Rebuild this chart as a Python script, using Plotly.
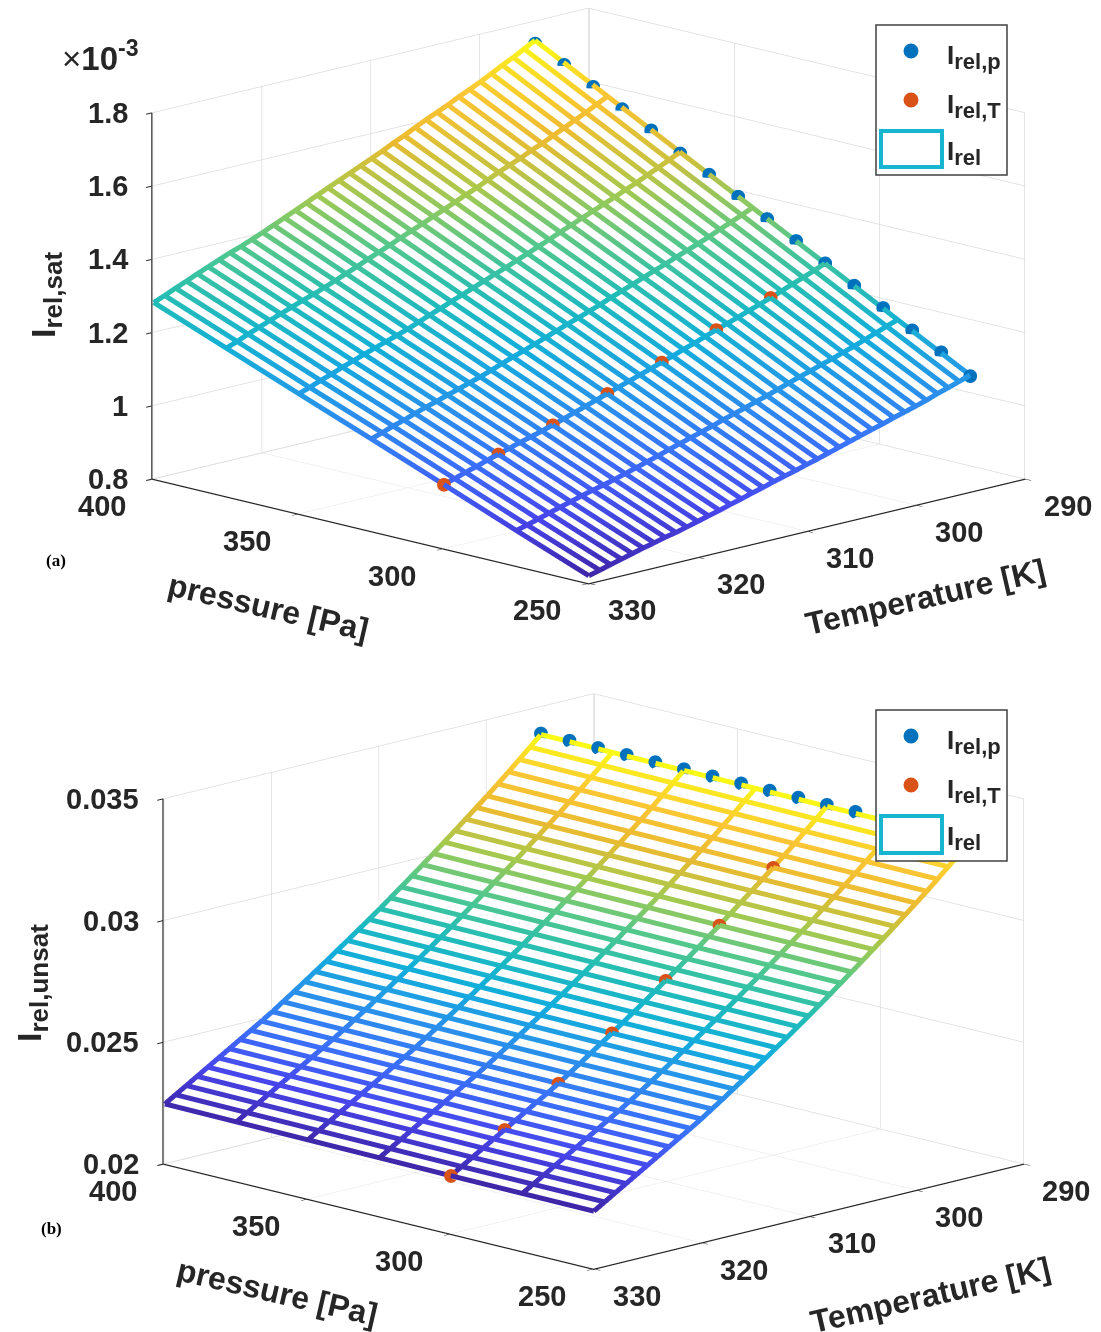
import plotly.graph_objects as go

TEMPS = list(range(295, 331))
PRESSURES = [400, 375, 350, 325, 300, 275, 250]

# rows: one per temperature, columns: one per pressure (units of 1e-3)
SAT = [
[1.748,1.643,1.538,1.434,1.329,1.223,1.119],
[1.732,1.628,1.524,1.421,1.317,1.212,1.109],
[1.716,1.613,1.510,1.408,1.305,1.201,1.099],
[1.702,1.599,1.497,1.396,1.294,1.190,1.090],
[1.686,1.585,1.483,1.383,1.282,1.179,1.079],
[1.671,1.571,1.471,1.371,1.271,1.169,1.070],
[1.657,1.557,1.458,1.360,1.260,1.159,1.061],
[1.644,1.545,1.446,1.349,1.250,1.150,1.053],
[1.629,1.531,1.434,1.337,1.239,1.140,1.043],
[1.616,1.519,1.422,1.326,1.229,1.131,1.035],
[1.603,1.507,1.410,1.315,1.219,1.121,1.026],
[1.589,1.493,1.398,1.303,1.208,1.111,1.017],
[1.574,1.479,1.385,1.292,1.197,1.101,1.008],
[1.561,1.467,1.373,1.281,1.187,1.092,0.999],
[1.546,1.454,1.361,1.269,1.176,1.082,0.990],
[1.533,1.441,1.349,1.258,1.166,1.073,0.982],
[1.520,1.429,1.337,1.247,1.156,1.064,0.973],
[1.507,1.416,1.326,1.237,1.146,1.054,0.965],
[1.494,1.404,1.314,1.226,1.136,1.045,0.957],
[1.481,1.392,1.303,1.215,1.126,1.036,0.948],
[1.468,1.379,1.291,1.204,1.116,1.027,0.940],
[1.454,1.367,1.280,1.193,1.106,1.018,0.931],
[1.441,1.355,1.268,1.183,1.096,1.008,0.923],
[1.428,1.342,1.257,1.172,1.086,0.999,0.914],
[1.415,1.330,1.245,1.161,1.076,0.990,0.906],
[1.402,1.318,1.233,1.150,1.066,0.981,0.898],
[1.390,1.306,1.223,1.141,1.057,0.972,0.890],
[1.378,1.295,1.213,1.131,1.048,0.964,0.882],
[1.368,1.285,1.203,1.122,1.040,0.957,0.876],
[1.356,1.274,1.193,1.112,1.031,0.949,0.868],
[1.344,1.263,1.182,1.103,1.022,0.940,0.861],
[1.332,1.252,1.172,1.093,1.013,0.932,0.853],
[1.319,1.240,1.160,1.082,1.003,0.923,0.845],
[1.307,1.229,1.150,1.073,0.994,0.914,0.837],
[1.294,1.216,1.138,1.062,0.984,0.905,0.829],
[1.282,1.205,1.128,1.052,0.975,0.897,0.821],
]

# same layout, units of 1e-3
UNSAT = [
[33.87,33.85,33.83,33.81,33.79,33.78,33.77],
[33.46,33.44,33.42,33.40,33.38,33.37,33.36],
[33.06,33.04,33.02,33.00,32.98,32.97,32.96],
[32.66,32.64,32.62,32.60,32.58,32.57,32.56],
[32.27,32.25,32.23,32.21,32.19,32.18,32.17],
[31.89,31.87,31.85,31.83,31.81,31.80,31.79],
[31.52,31.50,31.48,31.46,31.44,31.43,31.42],
[31.15,31.13,31.11,31.09,31.07,31.06,31.05],
[30.78,30.76,30.74,30.72,30.70,30.69,30.68],
[30.42,30.40,30.38,30.36,30.34,30.33,30.32],
[30.06,30.04,30.02,30.00,29.98,29.97,29.96],
[29.71,29.69,29.67,29.65,29.63,29.62,29.61],
[29.36,29.34,29.32,29.30,29.28,29.27,29.26],
[29.01,28.99,28.97,28.95,28.93,28.92,28.91],
[28.67,28.65,28.63,28.61,28.59,28.58,28.57],
[28.33,28.31,28.29,28.27,28.25,28.24,28.23],
[28.00,27.98,27.96,27.94,27.92,27.91,27.90],
[27.67,27.65,27.63,27.61,27.59,27.58,27.57],
[27.35,27.33,27.31,27.29,27.27,27.26,27.25],
[27.03,27.01,26.99,26.97,26.95,26.94,26.93],
[26.71,26.69,26.67,26.65,26.63,26.62,26.61],
[26.40,26.38,26.36,26.34,26.32,26.31,26.30],
[26.09,26.07,26.05,26.03,26.01,26.00,25.99],
[25.78,25.76,25.74,25.72,25.70,25.69,25.68],
[25.48,25.46,25.44,25.42,25.40,25.39,25.38],
[25.18,25.16,25.14,25.12,25.10,25.09,25.08],
[24.90,24.88,24.86,24.84,24.82,24.81,24.80],
[24.63,24.61,24.59,24.57,24.55,24.54,24.53],
[24.36,24.34,24.32,24.30,24.28,24.27,24.26],
[24.09,24.07,24.05,24.03,24.01,24.00,23.99],
[23.82,23.80,23.78,23.76,23.74,23.73,23.72],
[23.55,23.53,23.51,23.49,23.47,23.46,23.45],
[23.28,23.26,23.24,23.22,23.20,23.19,23.18],
[23.01,22.99,22.97,22.95,22.93,22.92,22.91],
[22.74,22.72,22.70,22.68,22.66,22.65,22.64],
[22.47,22.45,22.43,22.41,22.39,22.38,22.37],
]

DOT_P = [400,390,380,370,360,350,340,330,320,310,300,290,280,270,260,250]
SAT_DOT_P = [1.740,1.701,1.660,1.618,1.579,1.535,1.496,1.455,1.413,1.372,1.330,1.288,1.246,1.204,1.163,1.117]
UNSAT_DOT_P = [33.92,33.91,33.90,33.90,33.89,33.89,33.88,33.88,33.87,33.87,33.86,33.86,33.85,33.85,33.84,33.84]
DOT_T = [295,300,305,310,315,320,325,330]
SAT_DOT_T = [1.329,1.271,1.219,1.166,1.116,1.066,1.022,0.975]
UNSAT_DOT_T = [33.79,31.81,29.98,28.25,26.63,25.10,23.74,22.39]

P_TICKS = [250, 300, 350, 400]
T_TICKS = [290, 300, 310, 320, 330]
SAT_TICKS = [0.8, 1, 1.2, 1.4, 1.6, 1.8]
SAT_LABELS = ["0.8", "1", "1.2", "1.4", "1.6", "1.8"]
UNSAT_TICKS = [20, 25, 30, 35]
UNSAT_LABELS = ["0.02", "0.025", "0.03", "0.035"]

PARULA = [[0,"#3e26a8"],[.1,"#4745eb"],[.2,"#3a70fb"],[.3,"#2992ea"],[.4,"#12aedb"],
          [.5,"#21bcb8"],[.6,"#52c88c"],[.7,"#a6c94d"],[.8,"#ebba30"],[.9,"#fcc734"],[1,"#f9fb15"]]
BLUE = "#0072BD"; ORANGE = "#D95319"; CYAN = "#17b5cf"; INK = "#262626"
W, H = 1101, 1332
FONT = "Liberation Sans"
# axis ranges reach a hair past the data so the wires on the rim are not clipped
P_RANGE = [249.7, 400.3]
T_RANGE = [290, 330.1]

def add_panel(fig, scene, Z, dots_p, dots_t, drop):
    vals = [v for r in Z for v in r]
    lo, hi = min(vals), max(vals)
    # the white faces of the mesh, sitting just under its wires
    fig.add_trace(go.Surface(x=PRESSURES, y=TEMPS, z=[[v - drop for v in r] for r in Z], scene=scene,
        colorscale=[[0, "white"], [1, "white"]], showscale=False, hoverinfo="skip", opacity=1,
        lighting=dict(ambient=1, diffuse=0, specular=0, roughness=1, fresnel=0)))
    def wire(xs, ys, zs):
        fig.add_trace(go.Scatter3d(x=xs, y=ys, z=zs, mode="lines", scene=scene, showlegend=False,
            hoverinfo="skip", line=dict(width=10, color=zs, colorscale=PARULA, cmin=lo, cmax=hi)))
    for i, T in enumerate(TEMPS):
        wire(PRESSURES, [T]*len(PRESSURES), Z[i])
    for j, p in enumerate(PRESSURES):
        wire([p]*len(TEMPS), TEMPS, [r[j] for r in Z])
    fig.add_trace(go.Scatter3d(x=DOT_P, y=[295]*len(DOT_P), z=dots_p, mode="markers", scene=scene,
        showlegend=False, marker=dict(size=8, color=BLUE, line=dict(width=0))))
    fig.add_trace(go.Scatter3d(x=[300]*len(DOT_T), y=DOT_T, z=dots_t, mode="markers", scene=scene,
        showlegend=False, marker=dict(size=8, color=ORANGE, line=dict(width=0))))

def axis(rng, tickvals):
    return dict(title=dict(text=""), range=rng, tickmode="array", tickvals=tickvals,
        showticklabels=False, showbackground=False, showgrid=True, gridcolor="#dcdcdc", gridwidth=1.5,
        showline=True, linecolor=INK, linewidth=2.5, ticks="outside", ticklen=8, tickcolor=INK,
        tickwidth=2, zeroline=False, showspikes=False, showaxeslabels=False)

def camera(tan_el, dist, dx_px, dy_px, px_unit):
    h = 1.4142 * tan_el
    sx = dx_px / px_unit / 1.4142   # move content right
    cz = -dy_px / px_unit           # move content up
    c = dict(x=sx, y=sx, z=cz)
    return dict(projection=dict(type="orthographic"), up=dict(x=0, y=0, z=1), center=c,
                eye=dict(x=c["x"] - dist, y=c["y"] + dist, z=c["z"] + h * dist))

def tick_annotations(zmin, zticks, zlabels, zshift):
    tf = dict(family=FONT, size=29, color=INK, weight="bold")
    out = []
    for p in P_TICKS:
        out.append(dict(x=p, y=330, z=zmin, text=str(p), showarrow=False, xanchor="center", yanchor="middle",
                        xshift=-52, yshift=-27, font=tf))
    for T in T_TICKS:
        out.append(dict(x=250, y=T, z=zmin, text=str(T), showarrow=False, xanchor="center", yanchor="middle",
                        xshift=43, yshift=-27, font=tf))
    for z, lab in zip(zticks, zlabels):
        out.append(dict(x=400, y=330, z=z, text=lab, showarrow=False, xanchor="right", yanchor="middle",
                        xshift=zshift, yshift=0, font=tf))
    return out

def legend(top, bottom, dot1, dot2, rect):
    shapes = [dict(type="rect", xref="paper", yref="paper", x0=876/W, x1=1007/W, y0=1-top/H, y1=1-bottom/H,
                   fillcolor="white", line=dict(color="#404040", width=1.5))]
    for (cy, col) in ((dot1, BLUE), (dot2, ORANGE)):
        shapes.append(dict(type="circle", xref="paper", yref="paper", x0=(911-7.5)/W, x1=(911+7.5)/W,
                           y0=1-(cy+7.5)/H, y1=1-(cy-7.5)/H, fillcolor=col, line=dict(width=0)))
    shapes.append(dict(type="rect", xref="paper", yref="paper", x0=881/W, x1=942/W, y0=1-rect[0]/H, y1=1-rect[1]/H,
                       fillcolor="white", line=dict(color=CYAN, width=4)))
    anns = []
    for cy, sub in ((dot1, "rel,p"), (dot2, "rel,T"), (rect[0]+16, "rel")):
        anns.append(dict(text=f"<b>I<sub><span style='font-size:22px'>{sub}</span></sub></b>", xref="paper", yref="paper",
                         x=945/W, y=1-(cy+6)/H, xanchor="left", yanchor="middle", showarrow=False,
                         font=dict(family=FONT, size=26, color=INK)))
    return shapes, anns

def label(text, x, y, angle=0, size=32, family=FONT, color=INK):
    return dict(text=text, xref="paper", yref="paper", x=x/W, y=1-y/H, xanchor="center", yanchor="middle",
                textangle=angle, showarrow=False, font=dict(family=family, size=size, color=color))

fig = go.Figure()
add_panel(fig, "scene", SAT, SAT_DOT_P, SAT_DOT_T, 0.008)
add_panel(fig, "scene2", UNSAT, UNSAT_DOT_P, UNSAT_DOT_T, 0.12)

s1, a1 = legend(25, 175, 51, 100, (131, 167))
s2, a2 = legend(710, 861, 736, 785, (816, 853))

scene_a = dict(domain=dict(x=[0, 1], y=[0.5, 1]), aspectmode="manual", aspectratio=dict(x=1.855, y=1.855, z=1.133),
    camera=camera(0.247, 1.5, 38, 38, 332),
    xaxis=axis(P_RANGE, P_TICKS), yaxis=axis(T_RANGE, T_TICKS), zaxis=axis([0.8, 1.8], SAT_TICKS),
    annotations=tick_annotations(0.8, SAT_TICKS, SAT_LABELS, -24))
scene_b = dict(domain=dict(x=[0, 1], y=[0, 0.5]), aspectmode="manual", aspectratio=dict(x=1.829, y=1.829, z=1.131),
    camera=camera(0.252, 1.5, 43, 18, 332),
    xaxis=axis(P_RANGE, P_TICKS), yaxis=axis(T_RANGE, T_TICKS), zaxis=axis([20, 35], UNSAT_TICKS),
    annotations=tick_annotations(20, UNSAT_TICKS, UNSAT_LABELS, -24))

def ztitle(sub):
    return f"<b>I<sub><span style='font-size:26px'>{sub}</span></sub></b>"

anns = a1 + a2 + [
    label("<b>(a)</b>", 56, 560, size=17, family="Liberation Serif", color="black"),
    label("<b>(b)</b>", 52, 1228, size=17, family="Liberation Serif", color="black"),
    label("×<b>10<sup>-3</sup></b>", 100, 56, size=33),
    label("<b>pressure [Pa]</b>", 268, 607, angle=13),
    label("<b>Temperature [K]</b>", 925, 597, angle=-13),
    label(ztitle("rel,sat"), 46, 295, angle=-90, size=34),
    label("<b>pressure [Pa]</b>", 277, 1292, angle=13),
    label("<b>Temperature [K]</b>", 930, 1295, angle=-13),
    label(ztitle("rel,unsat"), 32, 983, angle=-90, size=34),
]

fig.update_layout(width=W, height=H, autosize=False, margin=dict(l=0, r=0, t=0, b=0), paper_bgcolor="white",
                  showlegend=False, scene=scene_a, scene2=scene_b, shapes=s1 + s2, annotations=anns)
fig.write_html("out.html", config={"displayModeBar": False},
               post_script="document.body.style.margin='0';document.body.style.overflow='hidden';")
